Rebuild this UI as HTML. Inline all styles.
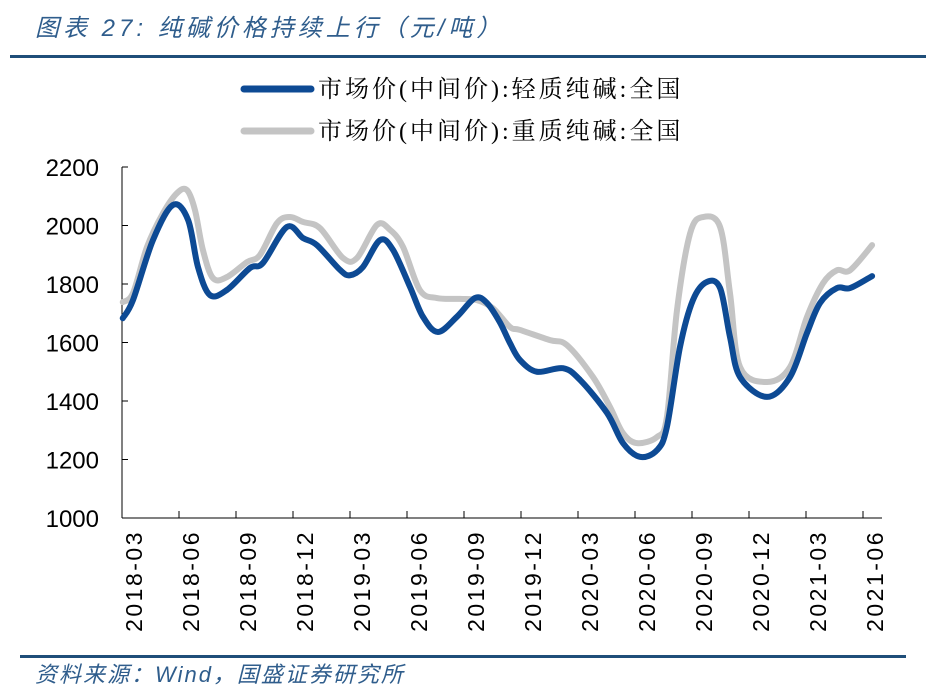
<!DOCTYPE html>
<html><head><meta charset="utf-8"><style>
body{margin:0;background:#fff;width:926px;height:694px;overflow:hidden;font-family:"Liberation Sans","Noto Sans CJK SC",sans-serif}
</style></head><body>
<svg id="chart" width="926" height="694">
<text x="35" y="36" font-size="24" font-style="italic" letter-spacing="4" fill="#2f5d8c" font-family="Liberation Sans,Noto Sans CJK SC,sans-serif">图表 27:  纯碱价格持续上行（元/吨）</text>
<rect x="10" y="55" width="916" height="3" fill="#1f4e79"/>
<g>
<g><line x1="244" y1="89" x2="311" y2="89" stroke="#0d4a94" stroke-width="7" stroke-linecap="round"/><text x="318" y="97" font-size="24" letter-spacing="3" fill="#000" font-family="Liberation Serif,Noto Serif CJK SC,serif">市场价(中间价):轻质纯碱:全国</text></g>
<g><line x1="244" y1="131" x2="311" y2="131" stroke="#c4c4c4" stroke-width="7" stroke-linecap="round"/><text x="318" y="139" font-size="24" letter-spacing="3" fill="#000" font-family="Liberation Serif,Noto Serif CJK SC,serif">市场价(中间价):重质纯碱:全国</text></g>
</g>
<g id="axes"></g>
<g id="series"></g>
<rect x="20" y="655" width="886" height="3" fill="#1f4e79"/>
<text x="35" y="682" font-size="22" font-style="italic" letter-spacing="2" fill="#2f5d8c" font-family="Liberation Sans,Noto Sans CJK SC,sans-serif">资料来源：Wind，国盛证券研究所</text>
</svg>
<script>
const yTicks=[1000,1200,1400,1600,1800,2000,2200];
const xLabels=["2018-03","2018-06","2018-09","2018-12","2019-03","2019-06","2019-09","2019-12","2020-03","2020-06","2020-09","2020-12","2021-03","2021-06"];
// time in months since 2018-03
const lightT=[-0.54,0,1.05,2.1,2.9,3.42,4.05,4.95,6.16,6.84,8.1,8.95,9.68,10.9,11.42,12.1,13,13.68,14.58,15.26,16.05,17.05,18,18.63,19.3,19.84,20.37,21.26,22.63,23.53,24.95,25.79,26.68,27.58,28.1,28.79,29.47,30.2,30.9,31.42,31.95,33.37,34.58,35.47,36.16,37.05,37.74,38.9];
const lightV=[1683,1745,1950,2070,2019,1858,1762,1780,1855,1872,1995,1957,1933,1848,1830,1858,1950,1917,1790,1688,1636,1688,1752,1735,1670,1598,1540,1500,1512,1472,1359,1256,1209,1232,1311,1585,1745,1807,1786,1619,1482,1414,1482,1632,1735,1786,1786,1827];
const denseT=[-0.54,0,0.74,1.58,2.32,2.84,3.26,3.68,4.21,4.95,6,6.68,7.58,8.26,8.95,9.84,11.05,11.79,12.84,13.53,14.21,15.1,16,17.21,18.1,18.95,19.84,20.37,21.95,22.84,24.21,25.1,25.79,26.53,27.58,28.1,28.63,29.32,30,30.9,31.42,31.95,33.37,34.58,35.47,36.32,37.05,37.74,38.9];
const denseV=[1738,1769,1927,2042,2111,2121,2053,1916,1820,1824,1875,1899,2008,2029,2012,1991,1889,1889,2002,1985,1927,1779,1752,1749,1745,1717,1653,1643,1608,1591,1482,1380,1290,1256,1277,1345,1710,1973,2029,1995,1769,1516,1465,1516,1687,1803,1847,1847,1933];
const NS="http://www.w3.org/2000/svg";
const X0=133,PX_M=19,Y0=518,PX_V=351/1200;
function xs(t){return X0+t*PX_M;}
function ys(v){return Y0-(v-1000)*PX_V;}
const axes=document.getElementById('axes');
function mk(tag,attrs,parent){const e=document.createElementNS(NS,tag);for(const k in attrs)e.setAttribute(k,attrs[k]);parent.appendChild(e);return e;}
const ya=mk('line',{x1:122,y1:167,x2:122,y2:518,stroke:'#000','stroke-width':1},axes);


const xa=mk('line',{x1:122,y1:518,x2:882,y2:518,stroke:'#000','stroke-width':1},axes);


yTicks.forEach(v=>{
 mk('line',{x1:122,y1:ys(v),x2:128,y2:ys(v),stroke:'#000'},axes);
 const t=mk('text',{x:99,y:ys(v)+9,'font-size':24,'text-anchor':'end',fill:'#000'},axes);
 t.textContent=v;
 
 
});
xLabels.forEach((l,i)=>{
 if(i>0) mk('line',{x1:122+57*i,y1:518,x2:122+57*i,y2:511,stroke:'#000'},axes);
 const cx=xs(i*3)+1, y=530;
 const t=mk('text',{x:cx,y:y,'font-size':23,'letter-spacing':'2.5','text-anchor':'end',fill:'#000',transform:`rotate(-90 ${cx} ${y}) translate(0 8)`},axes);
 t.textContent=l;
 
 
});
function path(T,V){
 const n=Math.min(T.length,V.length);
 const p=[];for(let i=0;i<n;i++)p.push([xs(T[i]),ys(V[i])]);
 let d=`M${p[0][0]},${p[0][1]}`;
 for(let i=0;i<p.length-1;i++){
  const p0=p[Math.max(0,i-1)],p1=p[i],p2=p[i+1],p3=p[Math.min(p.length-1,i+2)];
  const c1=[p1[0]+(p2[0]-p0[0])/6,p1[1]+(p2[1]-p0[1])/6];
  const c2=[p2[0]-(p3[0]-p1[0])/6,p2[1]-(p3[1]-p1[1])/6];
  d+=` C${c1[0]},${c1[1]} ${c2[0]},${c2[1]} ${p2[0]},${p2[1]}`;
 }
 return d;
}
const ser=document.getElementById('series');
const g=mk('path',{d:path(denseT,denseV),fill:'none',stroke:'#c4c4c4','stroke-width':6,'stroke-linejoin':'round','stroke-linecap':'round'},ser);


const b=mk('path',{d:path(lightT,lightV),fill:'none',stroke:'#0d4a94','stroke-width':6,'stroke-linejoin':'round','stroke-linecap':'round'},ser);


</script>
</body></html>
